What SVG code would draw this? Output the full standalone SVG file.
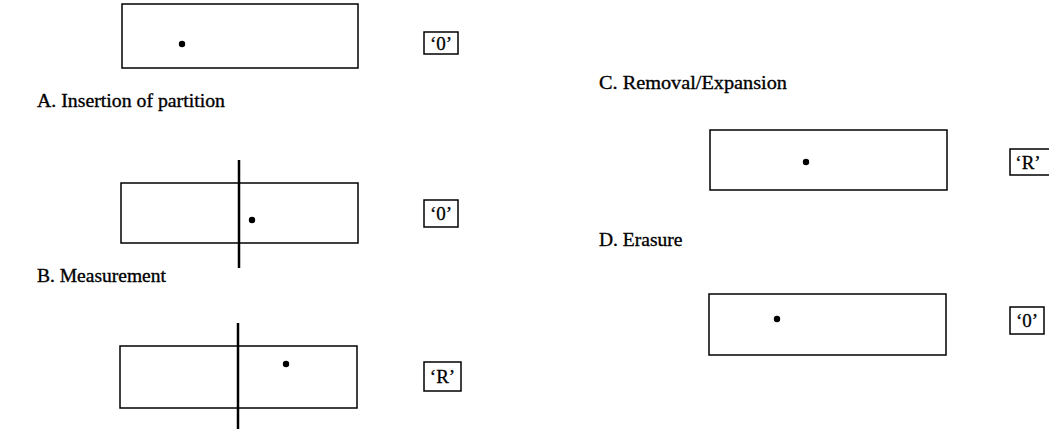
<svg xmlns="http://www.w3.org/2000/svg" width="1049" height="431" viewBox="0 0 1049 431">
  <style>
    .bg { fill: #ffffff; }
    .cell { fill: none; stroke: #000; stroke-width: 1.5; }
    .tag { fill: none; stroke: #000; stroke-width: 1.5; }
    .wall { stroke: #000; stroke-width: 2.5; }
    .dot { fill: #000; }
    .cap { font-family: "Liberation Serif", "DejaVu Serif", serif; font-size: 19.5px; fill: #000; stroke: #000; stroke-width: 0.35; }
    .sym { font-family: "Liberation Serif", "DejaVu Serif", serif; font-size: 19px; fill: #000; stroke: #000; stroke-width: 0.3; text-anchor: middle; }
  </style>
  <rect class="bg" x="0" y="0" width="1049" height="431"/>

  <!-- initial state -->
  <g id="state-initial">
    <rect class="cell" x="122" y="4" width="236" height="64"/>
    <circle class="dot" cx="182" cy="44" r="3.2"/>
    <rect class="tag" x="424" y="32" width="34" height="22"/>
    <text class="sym" x="441" y="49.5">‘0’</text>
  </g>

  <!-- A. insertion of partition -->
  <g id="step-a">
    <text class="cap" x="37" y="107" textLength="188" lengthAdjust="spacingAndGlyphs">A. Insertion of partition</text>
    <rect class="cell" x="121" y="183" width="237" height="60"/>
    <line class="wall" x1="239" y1="160" x2="239" y2="268"/>
    <circle class="dot" cx="252" cy="220" r="3.2"/>
    <rect class="tag" x="424" y="200" width="34" height="27"/>
    <text class="sym" x="441" y="220">‘0’</text>
  </g>

  <!-- B. measurement -->
  <g id="step-b">
    <text class="cap" x="37" y="282">B. Measurement</text>
    <rect class="cell" x="120" y="346" width="237" height="62"/>
    <line class="wall" x1="238" y1="323" x2="238" y2="429"/>
    <circle class="dot" cx="286" cy="364" r="3.2"/>
    <rect class="tag" x="424" y="362" width="37" height="29"/>
    <text class="sym" x="442.5" y="383">‘R’</text>
  </g>

  <!-- C. removal / expansion -->
  <g id="step-c">
    <text class="cap" x="599" y="89" textLength="188" lengthAdjust="spacingAndGlyphs">C. Removal/Expansion</text>
    <rect class="cell" x="710" y="130" width="237" height="60"/>
    <circle class="dot" cx="806" cy="162" r="3.2"/>
    <rect class="tag" x="1010" y="149" width="44" height="26"/>
    <text class="sym" x="1028" y="168.5">‘R’</text>
  </g>

  <!-- D. erasure -->
  <g id="step-d">
    <text class="cap" x="599" y="246">D. Erasure</text>
    <rect class="cell" x="709" y="294" width="237" height="61"/>
    <circle class="dot" cx="777" cy="319" r="3.2"/>
    <rect class="tag" x="1010" y="307" width="34" height="27"/>
    <text class="sym" x="1027" y="327">‘0’</text>
  </g>

  <g id="connectors"/>
</svg>
